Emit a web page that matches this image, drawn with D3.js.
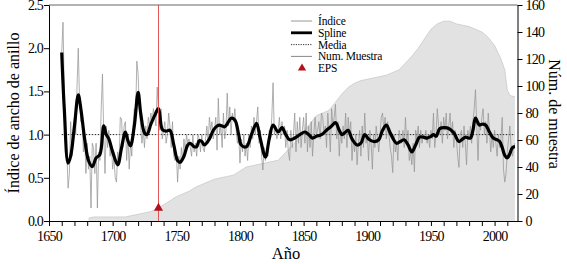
<!DOCTYPE html>
<html><head><meta charset="utf-8">
<script src="https://cdn.jsdelivr.net/npm/d3@7"></script>
<style>body{margin:0;background:#fff} svg{display:block}</style>
</head><body><svg id="c" width="567" height="264"></svg>
<script>
// ---- data ----
const indexStart = 1660;
const indexValues = [
  1.95,2.3,1.5,0.95,0.8,0.38,0.55,1.15,0.75,0.9,
  1.2,1.0,1.55,2.0,1.4,1.15,1.25,0.8,1.0,0.55,
  0.9,0.6,0.75,0.15,0.9,0.85,0.55,0.9,0.15,0.8,
  0.7,1.3,1.7,1.0,0.55,1.1,0.85,1.05,0.75,0.9,
  0.6,0.75,0.5,0.45,0.8,0.65,1.2,1.18,0.85,1.1,
  1.15,0.7,1.0,0.6,0.9,0.75,1.1,1.3,1.2,1.85,
  1.7,1.3,1.1,0.9,1.05,0.85,1.1,0.95,1.2,1.1,
  1.25,1.15,1.3,1.2,1.1,1.55,1.25,1.05,1.3,0.95,
  1.05,1.15,0.9,1.0,1.25,1.1,0.85,1.15,0.75,0.7,
  0.8,0.45,0.75,0.6,0.85,0.7,0.95,0.8,1.0,0.9,
  0.95,0.85,0.75,1.0,0.8,0.9,0.75,1.0,0.95,0.8,
  1.0,0.85,0.8,0.95,1.1,0.9,1.2,1.05,1.15,0.95,
  1.05,1.2,0.82,1.42,1.0,1.1,0.85,1.25,0.95,1.05,
  1.48,1.1,1.32,1.0,1.25,1.15,1.3,1.05,0.9,1.0,
  0.67,0.95,0.8,1.0,0.75,0.9,0.7,1.0,0.85,1.1,
  0.95,1.2,1.0,1.15,1.32,0.9,1.05,0.75,0.59,0.85,
  0.7,0.8,0.75,1.05,0.95,1.2,1.6,1.0,1.1,0.95,
  1.05,1.2,0.95,1.15,1.0,1.1,0.85,1.05,0.8,0.7,
  1.05,0.85,1.0,1.25,0.8,1.15,0.9,1.2,0.85,1.05,
  1.2,0.9,1.25,0.8,1.1,0.85,1.15,0.75,1.0,1.2,
  1.0,1.05,1.15,0.95,1.25,1.2,1.0,1.1,0.85,1.25,
  1.05,0.8,1.3,1.1,1.2,1.35,0.95,1.15,0.75,1.05,
  0.9,1.1,0.95,1.25,0.85,1.2,1.0,1.15,0.7,0.95,
  0.8,1.0,0.65,0.9,1.05,0.75,1.1,0.85,1.25,0.9,
  1.0,0.7,1.05,0.9,0.6,1.0,0.85,1.1,0.95,0.8,
  1.0,1.2,1.25,1.05,1.2,0.95,1.15,1.0,0.85,0.75,
  0.56,1.0,0.8,0.9,0.7,1.05,0.95,0.9,1.05,0.85,
  1.2,0.9,1.05,0.7,0.8,0.65,0.9,0.57,1.05,0.95,
  1.1,0.85,1.05,0.9,1.0,0.95,1.05,0.9,1.0,0.85,
  1.05,0.95,1.25,0.85,1.0,1.3,1.1,1.0,1.15,0.9,
  1.2,1.05,1.25,0.95,1.1,1.25,1.0,1.15,0.85,1.05,
  0.95,0.75,0.62,1.0,1.05,0.85,1.1,0.9,0.65,1.05,
  0.95,1.1,0.9,1.15,1.3,1.52,1.1,0.7,1.15,1.05,
  1.2,1.3,1.0,1.15,0.9,1.25,1.05,0.8,1.0,0.85,
  1.05,0.9,0.75,1.0,0.85,0.95,1.2,0.6,0.45,0.55,
  0.8,0.95,1.1,0.85,0.75,0.85,0.9
];
const splineYears = [1660,1662,1665,1667,1670,1673,1675,1678,1681,1684,1687,1690,1693,1695,1697,1700,1704,1707,1710,1712,1714,1717,1720,1722,1725,1727,1730,1733,1736,1739,1742,1745,1748,1751,1753,1756,1759,1761,1764,1766,1768,1770,1772,1776,1779,1782,1784,1788,1791,1793,1796,1799,1801,1805,1809,1813,1816,1820,1823,1826,1830,1833,1836,1839,1843,1847,1851,1854,1857,1860,1864,1868,1872,1875,1878,1880,1883,1885,1888,1892,1895,1898,1901,1905,1909,1912,1915,1918,1923,1926,1929,1932,1935,1938,1941,1944,1947,1950,1952,1954,1957,1961,1964,1968,1972,1975,1977,1981,1983,1985,1988,1990,1993,1996,1999,2002,2004,2006,2008,2010,2012,2014,2016];
const splineValues = [1.95,1.3,0.67,0.75,1.1,1.46,1.3,0.95,0.7,0.63,0.73,0.77,1.1,1.0,0.95,0.8,0.65,0.85,1.03,0.93,0.87,1.1,1.49,1.25,1.02,1.0,1.12,1.22,1.3,1.06,1.04,1.05,0.88,0.7,0.68,0.75,0.88,0.9,0.86,0.86,0.93,0.92,0.88,0.95,1.05,1.1,1.11,1.09,1.15,1.19,1.17,1.0,0.88,0.86,1.0,1.13,0.95,0.74,0.95,1.11,1.03,1.08,1.0,0.94,0.96,1.0,1.03,1.0,0.96,0.98,1.0,1.05,1.1,1.14,1.05,1.0,1.03,1.05,0.95,0.88,0.9,1.0,0.95,0.92,0.94,1.05,1.11,1.02,0.9,0.92,0.94,0.88,0.8,0.88,0.97,0.97,0.96,0.98,1.0,0.98,1.07,1.08,1.07,1.02,0.92,0.95,0.97,0.96,1.05,1.19,1.11,1.12,1.11,1.03,0.96,0.94,0.92,0.85,0.76,0.73,0.78,0.85,0.86];
const meanValue = 1.0;
const depthYears  = [1681,1685,1690,1695,1700,1705,1710,1715,1720,1725,1730,1735,1740,1745,1750,1755,1760,1765,1770,1775,1780,1785,1790,1795,1800,1805,1810,1815,1820,1825,1830,1835,1840,1845,1850,1855,1860,1865,1870,1875,1880,1885,1890,1895,1900,1905,1910,1915,1920,1925,1930,1935,1940,1945,1950,1955,1960,1965,1970,1975,1980,1985,1990,1995,2000,2005,2008,2010,2012,2016];
const depthValues = [2,3,3,3,3,3,3,4,5,6,7,9,12,15,18,20,22,25,27,29,31,32,33,34,37,40,41,42,43,44,45,50,55,60,66,72,78,80,82,88,94,99,102,104,105,106,107,108,110,112,117,122,128,135,142,146,148,148,146,145,144,142,140,136,130,120,112,97,93,92];
const epsYear = 1736;
const epsMark = 0.15;
const xMajor = [1650,1700,1750,1800,1850,1900,1950,2000];
const yLeftTicks = [0,0.5,1.0,1.5,2.0,2.5];
const yRightTicks = [0,20,40,60,80,100,120,140,160];
const legendLabels = ["Índice","Spline","Media","Num. Muestra","EPS"];

// ---- chart ----
const FONT = '"Liberation Serif", "Times New Roman", Times, "DejaVu Serif", serif';
const svg = d3.select("#c");
const x = d3.scaleLinear().domain([1650,2018]).range([49,517.5]);
const y = d3.scaleLinear().domain([0,2.5]).range([221,5]);
const y2 = d3.scaleLinear().domain([0,160]).range([221,5]);

const depth = depthYears.map((yr,i)=>({yr, v:depthValues[i]}));
svg.append("path").datum(depth)
  .attr("d", d3.area().x(d=>x(d.yr)).y0(y2(0)).y1(d=>y2(d.v)))
  .attr("fill","#e2e2e2");
svg.append("path").datum(depth)
  .attr("d", d3.line().x(d=>x(d.yr)).y(d=>y2(d.v)))
  .attr("fill","none").attr("stroke","#c4c4c4").attr("stroke-width",0.7);

// mean
svg.append("line").attr("x1",x(indexStart)).attr("x2",x(indexStart+indexValues.length-1))
  .attr("y1",y(meanValue)).attr("y2",y(meanValue))
  .attr("stroke","#222").attr("stroke-width",1).attr("stroke-dasharray","1.5,1.5");

// index
const idx = indexValues.map((v,i)=>({yr:indexStart+i, v}));
svg.append("path").datum(idx)
  .attr("d", d3.line().x(d=>x(d.yr)).y(d=>y(d.v)))
  .attr("fill","none").attr("stroke","#959595").attr("stroke-width",0.75);

// spline
const sp = splineYears.map((yr,i)=>({yr, v:splineValues[i]}));
svg.append("path").datum(sp)
  .attr("d", d3.line().curve(d3.curveCatmullRom.alpha(0.5)).x(d=>x(d.yr)).y(d=>y(d.v)))
  .attr("fill","none").attr("stroke","#000").attr("stroke-width",3.2).attr("stroke-linejoin","round");

// EPS
svg.append("line").attr("x1",x(epsYear)).attr("x2",x(epsYear)).attr("y1",y(2.5)).attr("y2",y(0))
  .attr("stroke","#e05555").attr("stroke-width",1);
svg.append("path").attr("d", d3.symbol(d3.symbolTriangle, 36)())
  .attr("transform",`translate(${x(epsYear)},${y(epsMark)})`).attr("fill","#b3121a");

// frame top
svg.append("line").attr("x1",x.range()[0]).attr("x2",x.range()[1]).attr("y1",5).attr("y2",5)
  .attr("stroke","#666").attr("stroke-width",1);

// axes
const ax = svg.append("g").attr("transform","translate(0,221)")
  .call(d3.axisBottom(x).tickValues(d3.range(1650,2018,10)).tickSize(5).tickSizeOuter(0)
    .tickFormat(d=> xMajor.includes(d)? String(d):""));
const ay = svg.append("g").attr("transform","translate(49,0)")
  .call(d3.axisLeft(y).tickValues(yLeftTicks).tickSize(5).tickSizeOuter(0).tickFormat(d3.format(".1f")));
const ay2 = svg.append("g").attr("transform","translate(517.5,0)")
  .call(d3.axisRight(y2).tickValues(yRightTicks).tickSize(5).tickSizeOuter(0));
[ax,ay,ay2].forEach(g=>{
  g.attr("font-family",null).attr("font-size",null);
  g.selectAll("path,line").attr("stroke","#000");
  g.selectAll("text").style("font-size","14px").style("letter-spacing","-0.8px").attr("fill","#000");
});
ax.selectAll("text").attr("dy","0.85em");
ay.selectAll("text").attr("x",-6);

// axis titles
svg.append("text").attr("x",286).attr("y",259).attr("text-anchor","middle").style("font-size","16.5px").text("Año");
svg.append("text").attr("transform","translate(19,113) rotate(-90)").attr("text-anchor","middle").style("font-size","16px").text("Índice de ancho de anillo");
svg.append("text").attr("transform","translate(549,114) rotate(90)").attr("text-anchor","middle").style("font-size","16px").text("Núm. de muestra");

// legend
const lg = svg.append("g");
const ly0 = 21, lstep = 11.8;
legendLabels.forEach((lab,i)=>{
  const yy = ly0 + i*lstep;
  if (i===0) lg.append("line").attr("x1",291).attr("x2",312).attr("y1",yy).attr("y2",yy).attr("stroke","#999").attr("stroke-width",1);
  if (i===1) lg.append("line").attr("x1",291).attr("x2",312).attr("y1",yy).attr("y2",yy).attr("stroke","#000").attr("stroke-width",2.8);
  if (i===2) lg.append("line").attr("x1",291).attr("x2",312).attr("y1",yy).attr("y2",yy).attr("stroke","#333").attr("stroke-width",1).attr("stroke-dasharray","1.2,1.2");
  if (i===3) lg.append("line").attr("x1",291).attr("x2",312).attr("y1",yy).attr("y2",yy).attr("stroke","#888").attr("stroke-width",1);
  if (i===4) lg.append("path").attr("d",d3.symbol(d3.symbolTriangle,30)()).attr("transform",`translate(302,${yy})`).attr("fill","#b3121a");
  lg.append("text").attr("x",318).attr("y",yy).attr("dy","0.35em").style("font-size","11.5px").style("letter-spacing","-0.2px").text(lab);
});
svg.selectAll("text").style("font-family",FONT).style("fill","#000");
</script></body></html>
